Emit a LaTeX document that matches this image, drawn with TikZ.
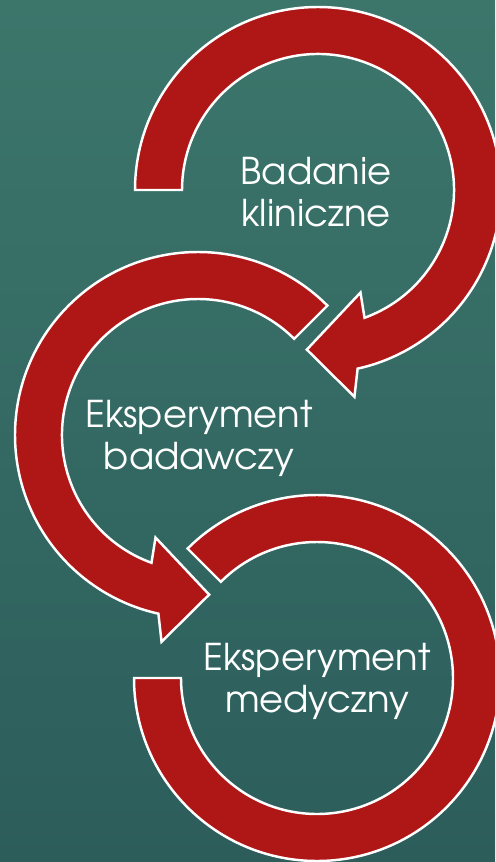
\documentclass[tikz,border=0pt]{standalone}
\usepackage{fontspec}
\setmainfont{TeX Gyre Adventor}
\usetikzlibrary{calc}

\definecolor{czerwony}{RGB}{175,22,22}
\definecolor{tlogora}{RGB}{60,118,107}
\definecolor{tlosrodek}{RGB}{66,128,116}
\definecolor{tlodol}{RGB}{44,93,91}

\begin{document}
\begin{tikzpicture}[
    x=0.02cm, y=0.02cm,
    strzalka/.style={fill=czerwony, draw=white, line width=1.4pt, line join=miter},
    etykieta/.style={text=white, align=center, inner sep=0pt,
                     font=\fontsize{21}{24}\selectfont}
]
    % Tlo
    \useasboundingbox (0,0) rectangle (495,-862);
    \clip (0,0) rectangle (495,-862);
    \shade[top color=tlogora, middle color=tlosrodek, bottom color=tlodol]
        (0,0) rectangle (495,-862);

    % Srodki okregow
    \coordinate (c1) at (318,-190);
    \coordinate (c2) at (198,-435);
    \coordinate (c3) at (317,-678);

    % Strzalka 1
    \begin{scope}[shift={(c1)}]
        \draw[strzalka] (180:183) arc[start angle=180, end angle=-77.5, radius=183]
            -- (-80:210) -- (-94:160) -- (-67.5:111) -- (-70:136)
            arc[start angle=-70, end angle=180, radius=136] -- cycle;
    \end{scope}

    % Strzalka 2
    \begin{scope}[shift={(c2)}]
        \draw[strzalka] (45:183) arc[start angle=45, end angle=257.5, radius=183]
            -- (260:210) -- (274:160) -- (247.5:111) -- (250:136)
            arc[start angle=250, end angle=45, radius=136] -- cycle;
    \end{scope}

    % Luk 3 (bez grotu)
    \begin{scope}[shift={(c3)}]
        \draw[strzalka] (180:183) arc[start angle=180, end angle=495, radius=183]
            -- (495:136) arc[start angle=495, end angle=180, radius=136] -- cycle;
    \end{scope}

    % Etykiety
    \node[etykieta] (badanie)  at ($(c1)+(-2,-2)$) {Badanie\\kliniczne};
    \node[etykieta] (badawczy) at ($(c2)+(1,-3)$)  {Eksperyment\\badawczy};
    \node[etykieta] (medyczny) at ($(c3)+(0,-3)$)  {Eksperyment\\medyczny};
\end{tikzpicture}
\end{document}
